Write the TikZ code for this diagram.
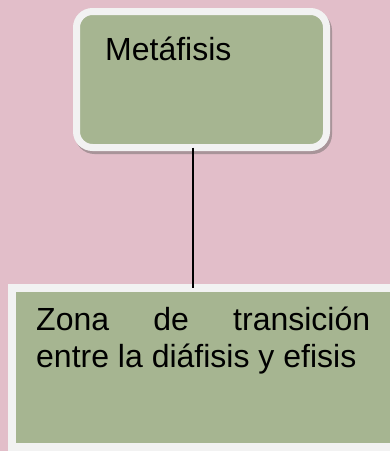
\documentclass[tikz,border=0pt]{standalone}
\usepackage{fontspec}
\setmainfont{Liberation Sans}
\usetikzlibrary{shadows}

\definecolor{fondo}{RGB}{226,190,201}
\definecolor{verde}{RGB}{166,181,145}
\definecolor{borde}{RGB}{242,242,242}
\definecolor{sombra}{RGB}{168,148,153}

\tikzset{
  caja/.style={draw=borde, fill=verde, outer sep=0pt, inner sep=0pt},
  texto/.style={font=\fontsize{32}{37}\selectfont, inner sep=0pt},
}

\begin{document}
\begin{tikzpicture}[x=1pt, y=-1pt]

  \useasboundingbox [fill=fondo] (0,0) rectangle (390,451);
  \clip (0,0) rectangle (390,451);

  \node [caja, line width=7pt, rounded corners=16pt,
         minimum width=250pt, minimum height=136pt,
         drop shadow={shadow xshift=2pt, shadow yshift=-3pt,
                      fill=sombra, draw=sombra, line width=7pt, opacity=1}]
        (metafisis) at (201.5,79.5) {};
  \node [texto, anchor=base west] (metafisis-txt) at (105,60) {Metáfisis};

  \node [caja, line width=8pt, minimum width=382pt, minimum height=159pt]
        (zona) at (203,367.5) {};
  \node [texto, anchor=base west, text width=334pt, align=justify]
        (zona-txt) at (36,330) {Zona de transición\linebreak entre la diáfisis y efisis};

  \draw [line width=1.3pt] ([xshift=-8.5pt]metafisis.south) -- ([xshift=-8.5pt]metafisis.south |- zona.north);

\end{tikzpicture}
\end{document}
